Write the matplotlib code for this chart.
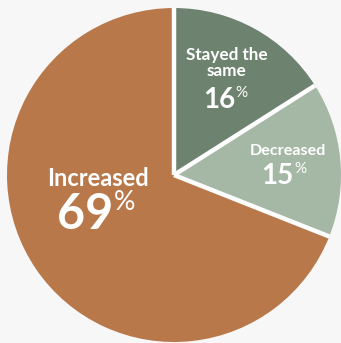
import matplotlib
matplotlib.use("Agg")
import numpy as np
import matplotlib.pyplot as plt

labels = ["Stayed the\nsame", "Decreased", "Increased"]
values = [16, 15, 69]
colors = ["#6e8270", "#a5b8a6", "#b8784a"]

BG = "#f7f7f7"
FONT = ["Lato", "DejaVu Sans"]


def main():
    fig = plt.figure(figsize=(3.41, 3.43), dpi=100, facecolor=BG)
    ax = fig.add_axes([0, 0, 1, 1])
    ax.set_facecolor(BG)

    ax.pie(values, colors=colors, startangle=90, counterclock=False,
           radius=1.0, wedgeprops=dict(linewidth=0))

    # white separators between the wedges only (no outer rim)
    bounds = 90 - 360 * np.cumsum([0] + values[:-1]) / sum(values)
    for a in np.radians(bounds):
        ax.plot([0, np.cos(a)], [0, np.sin(a)], color="white", lw=3.2,
                solid_capstyle="butt")

    ax.set_xlim(-1.042, 1.0)
    ax.set_ylim(-1.006, 1.048)
    ax.set_aspect("equal")
    ax.axis("off")

    # label positions (name, number) for each wedge
    spots = [((0.317, 0.668), (0.27, 0.449), 12.3, 20),
             ((0.683, 0.144), (0.62, -0.006), 11.6, 20),
             ((-0.455, -0.018), (-0.53, -0.234), 17, 35)]

    for lab, val, (npos, vpos, fs1, fs2) in zip(labels, values, spots):
        ax.text(npos[0], npos[1], lab, color="white", fontsize=fs1,
                fontweight="bold", family=FONT, ha="center", va="center",
                linespacing=1.0)
        t = ax.text(vpos[0], vpos[1], str(val), color="white", fontsize=fs2,
                    fontweight="bold", family=FONT, ha="center", va="center")
        ax.annotate("%", xy=(1.0, 1.0), xycoords=t, xytext=(0.5, 1),
                    textcoords="offset points", color="white",
                    fontsize=fs2 * 0.55, family=FONT, ha="left", va="top")

    fig.savefig("out.png", dpi=100, facecolor=BG)


if __name__ == "__main__":
    main()
